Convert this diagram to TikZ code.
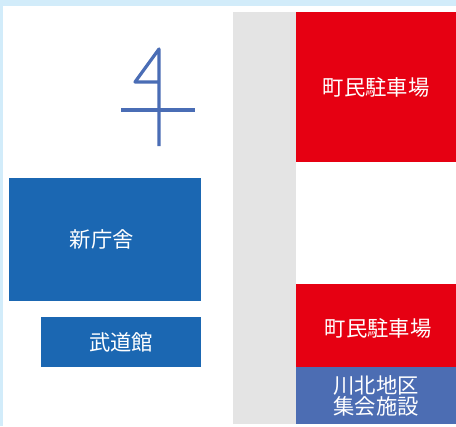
\documentclass[tikz,border=0pt]{standalone}
\usepackage{fontspec}
\newfontfamily\jpfont{Noto Sans CJK JP}
\usetikzlibrary{positioning}
\definecolor{sky}{HTML}{D2ECFA}
\definecolor{road}{HTML}{E4E4E4}
\definecolor{parking}{HTML}{E60012}
\definecolor{office}{HTML}{1B67B2}
\definecolor{facility}{HTML}{4C6DB3}
\definecolor{northcol}{HTML}{4A6DB5}
\tikzset{
	block/.style={inner sep=0pt, outer sep=0pt, text=white, align=center, font=\jpfont\fontsize{16pt}{14pt}\selectfont},
	park/.style={block, fill=parking, minimum width=120pt},
	hall/.style={block, fill=office},
	northline/.style={draw=northcol, line width=2.4pt, line join=round},
}
\begin{document}
\begin{tikzpicture}[x=0.75pt,y=-0.75pt] %
		\useasboundingbox (0,0) rectangle (456,426) ;
		% Page
		\fill[sky] (0,0) rectangle (456,426) ;
		\fill[white] (3,6) rectangle (456,426) ;
		% Road
		\node[block, fill=road, anchor=north west, minimum width=47.25pt, minimum height=309pt] (Road) at (233,12) {} ;
		% East side
		\node[park, anchor=north west, minimum height=112.5pt] (ParkN) at (296,12) {町民駐車場} ;
		\node[block, fill=facility, anchor=north west, minimum width=120pt, minimum height=42.75pt] (Kawakita) at (296,367) {川北地区\\集会施設} ;
		\node[park, above=0pt of Kawakita, minimum height=62.25pt] (ParkS) {\hspace*{3pt}\raisebox{-8.2pt}[0pt][0pt]{町民駐車場}} ;
		% West side
		\node[hall, anchor=north west, minimum width=144pt, minimum height=92.25pt] (Office) at (9,178) {\hspace*{-5pt}新庁舎} ;
		\node[hall, minimum width=120pt, minimum height=37.5pt, below=12pt of Office.south east, anchor=north east] (Budokan) {武道館} ;
		% North mark
		\draw[northline] (159,146) -- (159,49) -- (135,82) -- (159,82) ;
		\draw[northline] (121,110) -- (195,110) ;
	\end{tikzpicture}
\end{document}
